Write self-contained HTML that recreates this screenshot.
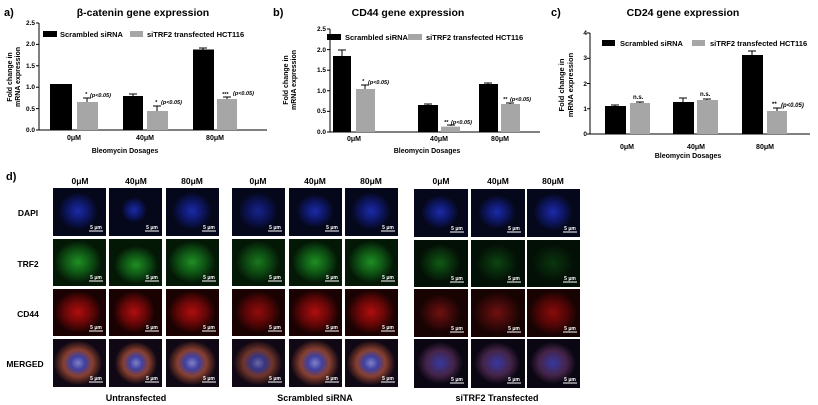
<!DOCTYPE html>
<html><head><meta charset="utf-8"><style>body{margin:0;background:#fff}svg{display:block}text{font-family:"Liberation Sans",sans-serif;font-weight:bold}</style></head><body>
<svg width="818" height="405" viewBox="0 0 818 405" xmlns="http://www.w3.org/2000/svg">
<defs>
<radialGradient id="b"><stop offset="0" stop-color="#1c2aa8"/><stop offset=".5" stop-color="#0e1868"/><stop offset="1" stop-color="#05071a"/></radialGradient>
<radialGradient id="g"><stop offset="0" stop-color="#1f8f22"/><stop offset=".55" stop-color="#0e5214"/><stop offset="1" stop-color="#041806"/></radialGradient>
<radialGradient id="r"><stop offset="0" stop-color="#b00e0e"/><stop offset=".55" stop-color="#680707"/><stop offset="1" stop-color="#1a0202"/></radialGradient>
<radialGradient id="m"><stop offset="0" stop-color="#8080c8"/><stop offset=".3" stop-color="#4040a0"/><stop offset=".6" stop-color="#884030"/><stop offset="1" stop-color="#150a14"/></radialGradient>
<radialGradient id="gd"><stop offset="0" stop-color="#105a14"/><stop offset="1" stop-color="#031006"/></radialGradient>
<radialGradient id="rd"><stop offset="0" stop-color="#701010"/><stop offset="1" stop-color="#180303"/></radialGradient>
<radialGradient id="md"><stop offset="0" stop-color="#3838a0"/><stop offset=".6" stop-color="#442448"/><stop offset="1" stop-color="#0a0612"/></radialGradient>
<g id="sb"><line x1="0" y1="0" x2="14" y2="0" stroke="#fff" stroke-width="1"/><text x="7" y="-2" font-size="5" fill="#fff" text-anchor="middle" font-weight="normal">5 μm</text></g>
</defs>

<!-- Panel a -->
<text x="4" y="16" font-size="11">a)</text>
<text x="143" y="16" font-size="10.5" text-anchor="middle">β-catenin gene expression</text>
<g font-size="6.5" text-anchor="end">
<text x="35" y="132">0.0</text><text x="35" y="111">0.5</text><text x="35" y="89">1.0</text><text x="35" y="68">1.5</text><text x="35" y="46">2.0</text><text x="35" y="25">2.5</text></g>
<path d="M39 23V130H267M36 130h3M36 108.6h3M36 87.2h3M36 65.8h3M36 44.4h3M36 23h3" stroke="#000" fill="none" stroke-width="1"/>
<text transform="translate(12,77) rotate(-90)" font-size="7" text-anchor="middle">Fold change in</text>
<text transform="translate(20,77) rotate(-90)" font-size="7" text-anchor="middle">mRNA expression</text>
<rect x="43" y="31" width="14" height="6"/><text x="60" y="37" font-size="7.5">Scrambled siRNA</text>
<rect x="130" y="31" width="13" height="6" fill="#a6a6a6"/><text x="147" y="37" font-size="7.5">siTRF2 transfected HCT116</text>
<g><rect x="50" y="84" width="22" height="46"/><rect x="77" y="102" width="21" height="28" fill="#a6a6a6"/>
<rect x="123" y="96" width="20" height="34"/><rect x="147" y="111" width="21" height="19" fill="#a6a6a6"/>
<rect x="193" y="49.5" width="21" height="80.5"/><rect x="217" y="99" width="20" height="31" fill="#a6a6a6"/></g>
<path d="M87 102V98M83 98h8M157 111V106M153 106h8M133 96V94M129 94h8M227 99V97M223 97h8M203 49.5V48M199 48h8" stroke="#000"/>
<g font-size="5.5" font-style="italic"><text x="85" y="96">*</text><text x="90" y="97">(p&lt;0.05)</text><text x="155" y="104">*</text><text x="161" y="104">(p&lt;0.05)</text><text x="222" y="96">***</text><text x="233" y="95">(p&lt;0.05)</text></g>
<g font-size="7" text-anchor="middle"><text x="74" y="140">0μM</text><text x="145" y="140">40μM</text><text x="215" y="140">80μM</text><text x="125" y="153">Bleomycin Dosages</text></g>

<!-- Panel b -->
<text x="273" y="16" font-size="11">b)</text>
<text x="408" y="16" font-size="10.5" text-anchor="middle">CD44 gene expression</text>
<g font-size="6.5" text-anchor="end">
<text x="326" y="134">0.0</text><text x="326" y="113">0.5</text><text x="326" y="93">1.0</text><text x="326" y="72">1.5</text><text x="326" y="52">2.0</text><text x="326" y="31">2.5</text></g>
<path d="M330 29V132H540M327 132h3M327 111.4h3M327 90.8h3M327 70.2h3M327 49.6h3M327 29h3" stroke="#000" fill="none"/>
<text transform="translate(288,80) rotate(-90)" font-size="7" text-anchor="middle">Fold change in</text>
<text transform="translate(296,80) rotate(-90)" font-size="7" text-anchor="middle">mRNA expression</text>
<rect x="327" y="34" width="14" height="6"/><text x="345" y="40" font-size="7.5">Scrambled siRNA</text>
<rect x="408" y="34" width="14" height="6" fill="#a6a6a6"/><text x="426" y="40" font-size="7.5">siTRF2 transfected HCT116</text>
<rect x="333" y="56" width="18" height="76"/><rect x="356" y="89" width="19" height="43" fill="#a6a6a6"/>
<rect x="418" y="105" width="20" height="27"/><rect x="441" y="126.6" width="19" height="5.4" fill="#a6a6a6"/>
<rect x="479" y="84" width="19" height="48"/><rect x="501" y="104" width="19" height="28" fill="#a6a6a6"/>
<path d="M342 56V50M338 50h8M365 89V85M361 85h8M451 126V125M447 125h8M428 105V104M424 104h8M510 104V103M506 103h8M488 84V83M484 83h8" stroke="#000"/>
<g font-size="5.5" font-style="italic"><text x="362" y="83">*</text><text x="368" y="84">(p&lt;0.05)</text><text x="444" y="124">**</text><text x="451" y="124">(p&lt;0.05)</text><text x="503" y="101">**</text><text x="510" y="101">(p&lt;0.05)</text></g>
<g font-size="7" text-anchor="middle"><text x="354" y="141">0μM</text><text x="439" y="141">40μM</text><text x="500" y="141">80μM</text><text x="427" y="153">Bleomycin Dosages</text></g>

<!-- Panel c -->
<text x="551" y="16" font-size="11">c)</text>
<text x="683" y="16" font-size="10.5" text-anchor="middle">CD24 gene expression</text>
<g font-size="6.5" text-anchor="end">
<text x="587" y="136">0</text><text x="587" y="111">1</text><text x="587" y="86">2</text><text x="587" y="60">3</text><text x="587" y="35">4</text></g>
<path d="M590 33V134H810M587 134h3M587 108.75h3M587 83.5h3M587 58.25h3M587 33h3" stroke="#000" fill="none"/>
<text transform="translate(564,85) rotate(-90)" font-size="7.5" text-anchor="middle">Fold change in</text>
<text transform="translate(573,85) rotate(-90)" font-size="7.5" text-anchor="middle">mRNA expression</text>
<rect x="602" y="40" width="13" height="6"/><text x="620" y="46" font-size="7.5">Scrambled siRNA</text>
<rect x="692" y="40" width="13" height="6" fill="#a6a6a6"/><text x="710" y="46" font-size="7.5">siTRF2 transfected HCT116</text>
<rect x="605" y="106" width="21" height="28"/><rect x="630" y="103" width="20" height="31" fill="#a6a6a6"/>
<rect x="673" y="102" width="21" height="32"/><rect x="697" y="100" width="21" height="34" fill="#a6a6a6"/>
<rect x="742" y="55" width="21" height="79"/><rect x="767" y="111" width="20" height="23" fill="#a6a6a6"/>
<path d="M615 106V105M611 105h8M640 103V102M636 102h8M683 102V98M679 98h8M707 100V99M703 99h8M752 55V51M748 51h8M777 111V108M773 108h8" stroke="#000"/>
<g font-size="6"><text x="633" y="99">n.s.</text><text x="700" y="96">n.s.</text><text x="772" y="106" font-size="6">**</text><text x="781" y="107" font-style="italic" font-size="6">(p&lt;0.05)</text></g>
<g font-size="7" text-anchor="middle"><text x="627" y="149">0μM</text><text x="696" y="149">40μM</text><text x="765" y="149">80μM</text><text x="688" y="158">Bleomycin Dosages</text></g>

<!-- Panel d -->
<text x="6" y="180" font-size="11">d)</text>
<g font-size="8.5" text-anchor="middle">
<text x="80" y="184">0μM</text><text x="136" y="184">40μM</text><text x="192" y="184">80μM</text>
<text x="258" y="184">0μM</text><text x="315" y="184">40μM</text><text x="371" y="184">80μM</text>
<text x="441" y="184">0μM</text><text x="498" y="184">40μM</text><text x="553" y="184">80μM</text>
<text x="28" y="216">DAPI</text><text x="28" y="267">TRF2</text><text x="28" y="317">CD44</text><text x="25" y="367">MERGED</text>
<text x="136" y="401" font-weight="normal" font-size="9">Untransfected</text><text x="315" y="401" font-weight="normal" font-size="9">Scrambled siRNA</text><text x="497" y="401" font-weight="normal" font-size="9">siTRF2 Transfected</text>
</g>
<g>
<!-- group 1 -->
<rect x="53" y="188" width="53" height="48" fill="#05071a"/><ellipse cx="78" cy="211" rx="20" ry="19" fill="url(#b)"/>
<rect x="109" y="188" width="53" height="48" fill="#05071a"/><ellipse cx="134" cy="210" rx="13" ry="13" fill="url(#b)"/>
<rect x="166" y="188" width="53" height="48" fill="#05071a"/><ellipse cx="192" cy="211" rx="20" ry="19" fill="url(#b)"/>
<rect x="53" y="239" width="53" height="47" fill="#041806"/><ellipse cx="78" cy="262" rx="24" ry="21" fill="url(#g)"/>
<rect x="109" y="239" width="53" height="47" fill="#041806"/><ellipse cx="136" cy="265" rx="22" ry="19" fill="url(#g)"/>
<rect x="166" y="239" width="53" height="47" fill="#041806"/><ellipse cx="192" cy="262" rx="24" ry="21" fill="url(#g)"/>
<rect x="53" y="289" width="53" height="47" fill="#1a0202"/><ellipse cx="78" cy="312" rx="24" ry="21" fill="url(#r)"/>
<rect x="109" y="289" width="53" height="47" fill="#1a0202"/><ellipse cx="134" cy="312" rx="21" ry="21" fill="url(#r)"/>
<rect x="166" y="289" width="53" height="47" fill="#1a0202"/><ellipse cx="192" cy="312" rx="24" ry="21" fill="url(#r)"/>
<rect x="53" y="339" width="53" height="48" fill="#100814"/><ellipse cx="78" cy="363" rx="24" ry="22" fill="url(#m)"/>
<rect x="109" y="339" width="53" height="48" fill="#100814"/><ellipse cx="136" cy="363" rx="21" ry="21" fill="url(#m)"/>
<rect x="166" y="339" width="53" height="48" fill="#100814"/><ellipse cx="192" cy="363" rx="24" ry="22" fill="url(#m)"/>
<!-- group 2 -->
<rect x="232" y="188" width="53" height="48" fill="#05071a"/><ellipse cx="258" cy="211" rx="20" ry="19" fill="url(#b)" opacity=".8"/>
<rect x="289" y="188" width="53" height="48" fill="#05071a"/><ellipse cx="315" cy="211" rx="19" ry="17" fill="url(#b)"/>
<rect x="345" y="188" width="53" height="48" fill="#05071a"/><ellipse cx="371" cy="211" rx="20" ry="19" fill="url(#b)"/>
<rect x="232" y="239" width="53" height="47" fill="#041806"/><ellipse cx="258" cy="262" rx="22" ry="21" fill="url(#g)" opacity=".8"/>
<rect x="289" y="239" width="53" height="47" fill="#041806"/><ellipse cx="315" cy="262" rx="23" ry="21" fill="url(#g)"/>
<rect x="345" y="239" width="53" height="47" fill="#041806"/><ellipse cx="371" cy="262" rx="23" ry="21" fill="url(#g)"/>
<rect x="232" y="289" width="53" height="47" fill="#1a0202"/><ellipse cx="258" cy="312" rx="23" ry="21" fill="url(#r)" opacity=".8"/>
<rect x="289" y="289" width="53" height="47" fill="#1a0202"/><ellipse cx="315" cy="312" rx="24" ry="22" fill="url(#r)"/>
<rect x="345" y="289" width="53" height="47" fill="#1a0202"/><ellipse cx="371" cy="312" rx="24" ry="22" fill="url(#r)"/>
<rect x="232" y="339" width="53" height="48" fill="#100814"/><ellipse cx="258" cy="363" rx="24" ry="22" fill="url(#m)" opacity=".8"/>
<rect x="289" y="339" width="53" height="48" fill="#100814"/><ellipse cx="315" cy="363" rx="24" ry="23" fill="url(#m)"/>
<rect x="345" y="339" width="53" height="48" fill="#100814"/><ellipse cx="371" cy="363" rx="24" ry="22" fill="url(#m)"/>
<!-- group 3 -->
<rect x="414" y="189" width="54" height="48" fill="#05071a"/><ellipse cx="440" cy="212" rx="19" ry="17" fill="url(#b)"/>
<rect x="471" y="189" width="54" height="48" fill="#05071a"/><ellipse cx="497" cy="212" rx="19" ry="17" fill="url(#b)"/>
<rect x="527" y="189" width="53" height="48" fill="#05071a"/><ellipse cx="553" cy="212" rx="20" ry="19" fill="url(#b)"/>
<rect x="414" y="240" width="54" height="47" fill="#031006"/><ellipse cx="440" cy="263" rx="21" ry="19" fill="url(#gd)"/>
<rect x="471" y="240" width="54" height="47" fill="#031006"/><ellipse cx="497" cy="263" rx="21" ry="19" fill="url(#gd)" opacity=".7"/>
<rect x="527" y="240" width="53" height="47" fill="#031006"/><ellipse cx="553" cy="263" rx="21" ry="19" fill="url(#gd)" opacity=".5"/>
<rect x="414" y="289" width="54" height="48" fill="#180303"/><ellipse cx="440" cy="313" rx="21" ry="19" fill="url(#rd)"/>
<rect x="471" y="289" width="54" height="48" fill="#180303"/><ellipse cx="497" cy="313" rx="24" ry="21" fill="url(#rd)"/>
<rect x="527" y="289" width="53" height="48" fill="#180303"/><ellipse cx="553" cy="313" rx="24" ry="22" fill="url(#r)" opacity=".75"/>
<rect x="414" y="339" width="54" height="49" fill="#0a0612"/><ellipse cx="440" cy="363" rx="23" ry="21" fill="url(#md)"/>
<rect x="471" y="339" width="54" height="49" fill="#0a0612"/><ellipse cx="497" cy="363" rx="23" ry="21" fill="url(#md)"/>
<rect x="527" y="339" width="53" height="49" fill="#0a0612"/><ellipse cx="553" cy="363" rx="23" ry="21" fill="url(#md)"/>
</g>
<g>
<use href="#sb" x="89" y="231"/><use href="#sb" x="145" y="231"/><use href="#sb" x="202" y="231"/>
<use href="#sb" x="89" y="281"/><use href="#sb" x="145" y="281"/><use href="#sb" x="202" y="281"/>
<use href="#sb" x="89" y="331"/><use href="#sb" x="145" y="331"/><use href="#sb" x="202" y="331"/>
<use href="#sb" x="89" y="382"/><use href="#sb" x="145" y="382"/><use href="#sb" x="202" y="382"/>
<use href="#sb" x="268" y="231"/><use href="#sb" x="325" y="231"/><use href="#sb" x="381" y="231"/>
<use href="#sb" x="268" y="281"/><use href="#sb" x="325" y="281"/><use href="#sb" x="381" y="281"/>
<use href="#sb" x="268" y="331"/><use href="#sb" x="325" y="331"/><use href="#sb" x="381" y="331"/>
<use href="#sb" x="268" y="382"/><use href="#sb" x="325" y="382"/><use href="#sb" x="381" y="382"/>
<use href="#sb" x="450" y="232"/><use href="#sb" x="507" y="232"/><use href="#sb" x="563" y="232"/>
<use href="#sb" x="450" y="282"/><use href="#sb" x="507" y="282"/><use href="#sb" x="563" y="282"/>
<use href="#sb" x="450" y="332"/><use href="#sb" x="507" y="332"/><use href="#sb" x="563" y="332"/>
<use href="#sb" x="450" y="383"/><use href="#sb" x="507" y="383"/><use href="#sb" x="563" y="383"/>
</g>
</svg>
</body></html>
